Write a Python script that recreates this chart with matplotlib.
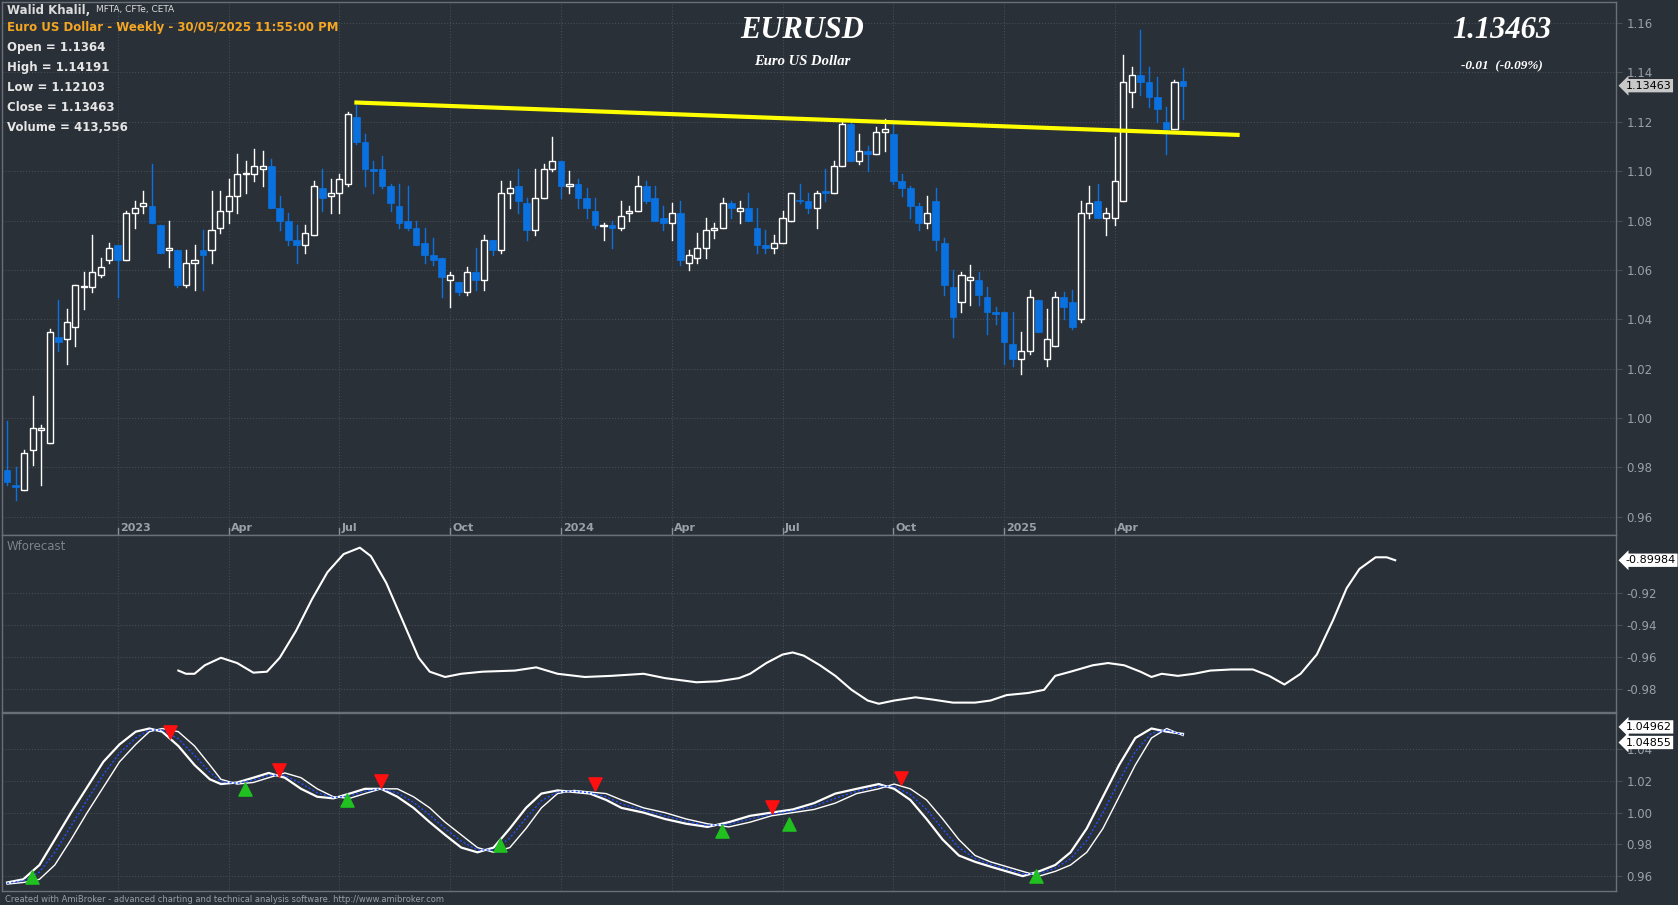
import numpy as np
import pandas as pd
import matplotlib
matplotlib.use("Agg")
import matplotlib.pyplot as plt
from matplotlib.patches import Rectangle

opens = [.979,.973,.971,.987,.995,.990,1.033,1.032,1.037,1.053,1.053,1.058,1.064,1.070,1.064,1.083,1.086,1.086,1.078,1.068,
1.068,1.054,1.063,1.068,1.068,1.077,1.084,1.090,1.099,1.099,1.101,1.102,1.085,1.080,1.072,1.070,1.074,1.093,1.090,1.091,
1.095,1.122,1.112,1.101,1.101,1.094,1.086,1.080,1.077,1.071,1.066,1.065,1.056,1.055,1.051,1.059,1.056,1.072,1.068,1.091,
1.094,1.087,1.076,1.089,1.101,1.104,1.094,1.095,1.089,1.084,1.0778,1.078,1.077,1.083,1.084,1.094,1.089,1.081,1.079,1.083,
1.063,1.065,1.069,1.076,1.077,1.087,1.084,1.085,1.077,1.070,1.069,1.071,1.080,1.0885,1.088,1.085,1.092,1.091,1.102,1.119,
1.104,1.108,1.107,1.116,1.115,1.096,1.093,1.086,1.079,1.088,1.071,1.053,1.047,1.056,1.056,1.049,1.043,1.043,1.030,1.024,
1.027,1.048,1.024,1.029,1.049,1.047,1.040,1.083,1.088,1.081,1.081,1.088,1.132,1.139,1.136,1.130,1.120,1.117,1.1364]
highs = [.999,.980,.987,1.009,.997,1.036,1.048,1.044,1.054,1.059,1.074,1.065,1.071,1.070,1.084,1.088,1.092,1.103,1.078,1.080,
1.068,1.068,1.070,1.076,1.092,1.092,1.097,1.107,1.104,1.109,1.108,1.105,1.090,1.083,1.078,1.078,1.096,1.101,1.097,1.099,
1.124,1.127,1.115,1.104,1.106,1.095,1.095,1.094,1.080,1.077,1.073,1.065,1.059,1.055,1.061,1.069,1.074,1.072,1.096,1.096,
1.101,1.089,1.101,1.103,1.114,1.104,1.100,1.097,1.093,1.089,1.079,1.080,1.088,1.086,1.098,1.096,1.094,1.086,1.087,1.088,
1.068,1.075,1.081,1.079,1.089,1.088,1.088,1.091,1.085,1.076,1.074,1.084,1.091,1.095,1.091,1.092,1.101,1.104,1.120,1.120,
1.115,1.110,1.118,1.121,1.119,1.099,1.094,1.087,1.090,1.093,1.073,1.060,1.059,1.062,1.059,1.053,1.045,1.043,1.043,1.035,
1.052,1.048,1.044,1.051,1.051,1.052,1.088,1.094,1.095,1.085,1.114,1.147,1.142,1.157,1.142,1.138,1.126,1.137,1.14191]
lows = [.973,.967,.971,.981,.973,.990,1.027,1.022,1.029,1.044,1.051,1.057,1.063,1.049,1.064,1.077,1.083,1.079,1.067,1.061,
1.053,1.053,1.052,1.052,1.063,1.075,1.079,1.083,1.091,1.096,1.094,1.085,1.076,1.070,1.063,1.067,1.074,1.084,1.083,1.083,
1.094,1.111,1.094,1.091,1.093,1.084,1.077,1.076,1.070,1.063,1.062,1.049,1.045,1.050,1.050,1.052,1.052,1.066,1.067,1.085,
1.083,1.072,1.074,1.089,1.100,1.089,1.091,1.085,1.081,1.077,1.072,1.069,1.076,1.080,1.084,1.087,1.080,1.076,1.072,1.062,
1.060,1.063,1.065,1.073,1.077,1.081,1.079,1.080,1.067,1.067,1.067,1.071,1.080,1.087,1.083,1.077,1.088,1.091,1.102,1.104,
1.103,1.100,1.107,1.108,1.095,1.090,1.081,1.076,1.077,1.068,1.050,1.033,1.043,1.046,1.046,1.034,1.038,1.022,1.021,1.018,
1.026,1.035,1.021,1.029,1.040,1.036,1.039,1.081,1.081,1.074,1.078,1.088,1.126,1.131,1.126,1.120,1.107,1.117,1.12103]
closes = [.974,.972,.986,.996,.996,1.035,1.031,1.039,1.054,1.053,1.059,1.061,1.069,1.064,1.083,1.085,1.087,1.079,1.067,1.069,
1.054,1.063,1.064,1.066,1.076,1.084,1.090,1.099,1.099,1.102,1.102,1.085,1.080,1.072,1.070,1.075,1.094,1.089,1.091,1.097,
1.123,1.112,1.101,1.100,1.094,1.087,1.079,1.077,1.070,1.066,1.064,1.057,1.058,1.051,1.059,1.056,1.072,1.068,1.091,1.093,
1.088,1.076,1.089,1.101,1.104,1.094,1.095,1.089,1.085,1.078,1.0782,1.077,1.082,1.084,1.094,1.088,1.080,1.079,1.083,1.064,
1.066,1.069,1.076,1.077,1.087,1.085,1.085,1.080,1.070,1.069,1.071,1.081,1.091,1.088,1.085,1.091,1.091,1.102,1.119,1.104,
1.108,1.107,1.116,1.117,1.096,1.093,1.086,1.079,1.083,1.072,1.054,1.041,1.058,1.057,1.050,1.043,1.042,1.031,1.024,1.027,
1.049,1.035,1.032,1.049,1.045,1.037,1.083,1.087,1.081,1.083,1.096,1.136,1.139,1.136,1.130,1.125,1.117,1.136,1.13463]

trend_x = [41, 144.4]
trend_y = [1.1278, 1.1147]

wf_x = [20.1,21.0,22.0,23.2,25.1,27.0,28.9,30.5,32.0,33.9,35.8,37.6,39.5,41.4,42.7,44.5,46.4,48.3,49.6,51.4,53.3,55.8,59.6,62.1,
64.6,67.8,70.9,74.7,77.2,80.9,83.4,85.9,87.2,89.1,91.0,92.2,93.5,95.4,97.2,99.1,101.0,102.3,104.1,106.6,108.5,111.0,113.6,
115.4,117.3,119.8,121.7,123.0,124.8,127.4,129.2,131.1,133.0,134.3,135.5,137.4,139.3,141.2,143.7,146.2,148.1,149.9,151.8,
153.7,155.6,157.2,158.7,160.6,161.9,162.9]
wf_y = [-0.9687,-0.9707,-0.9707,-0.9654,-0.9607,-0.9640,-0.9700,-0.9694,-0.9607,-0.9440,-0.9240,-0.9073,-0.8960,-0.8920,
-0.8973,-0.9140,-0.9373,-0.9607,-0.9694,-0.9727,-0.9707,-0.9694,-0.9687,-0.9667,-0.9707,-0.9727,-0.9720,-0.9707,-0.9734,
-0.9760,-0.9754,-0.9734,-0.9707,-0.9640,-0.9587,-0.9574,-0.9594,-0.9654,-0.9720,-0.9807,-0.9874,-0.9894,-0.9874,-0.9854,
-0.9867,-0.9887,-0.9887,-0.9874,-0.9840,-0.9827,-0.9807,-0.9720,-0.9694,-0.9654,-0.9640,-0.9654,-0.9694,-0.9727,-0.9707,
-0.9720,-0.9707,-0.9687,-0.9680,-0.9680,-0.9720,-0.9774,-0.9707,-0.9587,-0.9373,-0.9173,-0.9053,-0.8980,-0.8980,-0.899842]

osc_x = [0,1.9,3.8,5.6,7.5,9.4,11.3,13.2,15.1,16.7,18.2,20.1,22,23.8,25.1,27,28.9,30.7,32.6,34.5,36.4,38.3,40.2,42,43.9,
45.8,47.7,49.6,51.4,53.3,55.2,57.1,59,60.9,62.7,64.6,66.5,68.4,70.3,72.1,74.7,77.2,79.7,82.2,84.7,87.2,89.7,92.2,94.7,97.2,
99.7,102.3,104.1,106,107.9,109.8,111.7,113.6,115.4,117.3,119.2,121.1,123,124.8,126.7,128.6,130.5,132.4,134.3,136.1,138]
fast_y = [0.956,0.958,0.967,0.983,1.000,1.016,1.032,1.043,1.051,1.053,1.051,1.042,1.030,1.021,1.018,1.019,1.022,1.025,1.022,1.015,
1.010,1.009,1.012,1.015,1.015,1.010,1.003,0.994,0.986,0.978,0.975,0.978,0.990,1.003,1.012,1.014,1.013,1.012,1.008,1.003,
1.000,0.996,0.993,0.991,0.994,0.998,1.000,1.002,1.006,1.012,1.015,1.018,1.015,1.008,0.996,0.983,0.973,0.969,0.966,0.963,
0.960,0.963,0.967,0.975,0.990,1.010,1.030,1.047,1.053,1.051,1.04962]
slow_y = [0.955,0.956,0.958,0.967,0.983,1.000,1.016,1.032,1.043,1.051,1.053,1.051,1.042,1.030,1.021,1.018,1.019,1.022,1.025,1.022,
1.015,1.010,1.009,1.012,1.015,1.015,1.010,1.003,0.994,0.986,0.978,0.975,0.978,0.990,1.003,1.012,1.014,1.013,1.012,1.008,
1.003,1.000,0.996,0.993,0.991,0.994,0.998,1.000,1.002,1.006,1.012,1.015,1.018,1.015,1.008,0.996,0.983,0.973,0.969,0.966,
0.963,0.960,0.963,0.967,0.975,0.990,1.010,1.030,1.047,1.053,1.04855]
mid_y = [0.9555,0.957,0.9625,0.975,0.9915,1.008,1.024,1.0375,1.047,1.052,1.052,1.0465,1.036,1.0255,1.0195,1.0185,1.0205,1.0235,
1.0235,1.0185,1.0125,1.0095,1.0105,1.0135,1.015,1.0125,1.0065,0.9985,0.990,0.982,0.9765,0.9765,0.984,0.9965,1.0075,1.013,
1.0135,1.0125,1.010,1.0055,1.0015,0.998,0.9945,0.992,0.9925,0.996,0.999,1.001,1.004,1.009,1.0135,1.0165,1.0165,1.0115,
1.002,0.9895,0.978,0.971,0.9675,0.9645,0.9615,0.9615,0.965,0.971,0.9825,1.000,1.020,1.0385,1.050,1.052,1.0491]
sell_x = [19.1,31.9,43.9,69.0,89.8,104.9]
sell_y = [1.0508,1.0266,1.0198,1.0178,1.0037,1.0219]
buy_x = [2.9,27.9,39.9,57.8,83.9,91.8,120.8]
buy_y = [0.9594,1.0151,1.0077,0.9795,0.9883,0.993,0.960]

BG = '#2a3038'
GRID = '#474d55'
TXT = '#9aa0a6'
BLUE = '#0a72e0'

fig = plt.figure(figsize=(16.78, 9.05), dpi=100, facecolor=BG)
L, W = 0.001, 0.962
ax1 = fig.add_axes([L, 0.409, W, 0.589])
ax2 = fig.add_axes([L, 0.213, W, 0.196])
ax3 = fig.add_axes([L, 0.0154, W, 0.197])
xmin, xmax = -0.63, 188.8

dates = pd.date_range(end='2025-05-30', periods=len(opens), freq='W-FRI')
tick_idx, tick_lab = [], []
for i in range(1, len(dates)):
    if dates[i].month != dates[i-1].month and dates[i].month in (1, 4, 7, 10):
        tick_idx.append(i)
        tick_lab.append(str(dates[i].year) if dates[i].month == 1 else dates[i].strftime('%b'))

for ax in (ax1, ax2, ax3):
    ax.set_facecolor(BG)
    ax.set_xlim(xmin, xmax)
    ax.yaxis.tick_right()
    ax.tick_params(axis='y', colors=GRID, labelcolor=TXT, labelsize=8.5, length=4, direction='out')
    ax.tick_params(axis='x', bottom=False, labelbottom=False)
    for s in ax.spines.values():
        s.set_color('#6b7077'); s.set_linewidth(1.0)
    ax.grid(axis='y', color=GRID, linestyle=':', linewidth=0.8)
    for t in tick_idx:
        ax.axvline(t, color=GRID, linestyle=':', linewidth=0.8, zorder=0)

# candles
ax1.set_ylim(0.9527, 1.1686)
ax1.set_yticks(np.arange(0.96, 1.161, 0.02))
ax1.set_yticklabels([f'{v:.2f}' for v in np.arange(0.96, 1.161, 0.02)])
for i, (o, h, l, c) in enumerate(zip(opens, highs, lows, closes)):
    up = c >= o
    col = 'white' if up else BLUE
    ax1.plot([i, i], [l, h], color=col, linewidth=1.0, zorder=2)
    bot, top = min(o, c), max(o, c)
    hgt = max(top - bot, 0.0004)
    if up:
        ax1.add_patch(Rectangle((i - 0.36, bot), 0.72, hgt, facecolor=BG, edgecolor='white', linewidth=1.0, zorder=3))
    else:
        ax1.add_patch(Rectangle((i - 0.4, bot), 0.8, hgt, facecolor=BLUE, edgecolor=BLUE, linewidth=0.5, zorder=3))
ax1.plot(trend_x, trend_y, color='#ffff00', linewidth=3, zorder=4)
for t, lab in zip(tick_idx, tick_lab):
    ax1.plot([t, t], [0.9527, 0.9555], color='#8a9097', linewidth=1)
    ax1.text(t + 0.3, 0.9535, lab, color=TXT, fontsize=8, fontweight='bold', ha='left', va='bottom')

def tag(ax, val, text, fc, off=0):
    ax.annotate(text, xy=(1.0, val), xycoords=('axes fraction', 'data'), xytext=(7, off),
                textcoords='offset points', fontsize=8, color='black', va='center', ha='left',
                bbox=dict(boxstyle='larrow,pad=0.15', fc=fc, ec='none'), annotation_clip=False)

tag(ax1, closes[-1], f'{closes[-1]:.5f}', '#c8c8c8')

# wforecast
ax2.set_ylim(-0.9947, -0.884)
ax2.set_yticks([-0.98, -0.96, -0.94, -0.92])
ax2.set_yticklabels(['-0.98', '-0.96', '-0.94', '-0.92'])
ax2.plot(wf_x, wf_y, color='white', linewidth=1.5)
ax2.text(0.003, 0.97, 'Wforecast', transform=ax2.transAxes, color='#7d838a', fontsize=8.5, va='top')
tag(ax2, wf_y[-1], f'{wf_y[-1]:.5f}', 'white')

# oscillator
ax3.set_ylim(0.9506, 1.0629)
ax3.set_yticks([0.96, 0.98, 1.00, 1.02, 1.04])
ax3.set_yticklabels(['0.96', '0.98', '1.00', '1.02', '1.04'])
ax3.plot(osc_x, slow_y, color='white', linewidth=1.0)
ax3.plot(osc_x, fast_y, color='white', linewidth=1.6)
ax3.plot(osc_x, mid_y, color='#2050ff', linewidth=1.0, linestyle=(0, (1.5, 1.5)))
ax3.scatter(sell_x, sell_y, marker='v', s=90, color='#ff1010', zorder=5)
ax3.scatter(buy_x, buy_y, marker='^', s=90, color='#20c020', zorder=5)
tag(ax3, fast_y[-1], f'{fast_y[-1]:.5f}', 'white', 5)
tag(ax3, slow_y[-1], f'{slow_y[-1]:.5f}', 'white', -5)

# texts
fig.text(0.004, 0.996, 'Walid Khalil,', color='#dcdcdc', fontsize=8.5, fontweight='bold', va='top')
fig.text(0.057, 0.994, 'MFTA, CFTe, CETA', color='#dcdcdc', fontsize=6.5, va='top')
fig.text(0.004, 0.977, 'Euro US Dollar - Weekly - 30/05/2025 11:55:00 PM', color='#f5a623', fontsize=8.5, fontweight='bold', va='top')
for k, s in enumerate(['Open = 1.1364', 'High = 1.14191', 'Low = 1.12103', 'Close = 1.13463', 'Volume = 413,556']):
    fig.text(0.004, 0.955 - k * 0.0222, s, color='#e6e6e6', fontsize=8.5, fontweight='bold', va='top')
fig.text(0.478, 0.966, 'EURUSD', color='white', fontsize=22, fontweight='bold', fontstyle='italic',
         family='Liberation Serif', ha='center', va='center')
fig.text(0.478, 0.932, 'Euro US Dollar', color='white', fontsize=10.5, fontweight='bold', fontstyle='italic',
         family='Liberation Serif', ha='center', va='center')
fig.text(0.895, 0.966, '1.13463', color='white', fontsize=22, fontweight='bold', fontstyle='italic',
         family='Liberation Serif', ha='center', va='center')
fig.text(0.895, 0.927, '-0.01  (-0.09%)', color='white', fontsize=9.5, fontweight='bold', fontstyle='italic',
         family='Liberation Serif', ha='center', va='center')
fig.text(0.003, 0.0065, 'Created with AmiBroker - advanced charting and technical analysis software. http://www.amibroker.com',
         color='#9aa0a6', fontsize=6, va='center')

fig.savefig('out.png', dpi=100, facecolor=BG)
